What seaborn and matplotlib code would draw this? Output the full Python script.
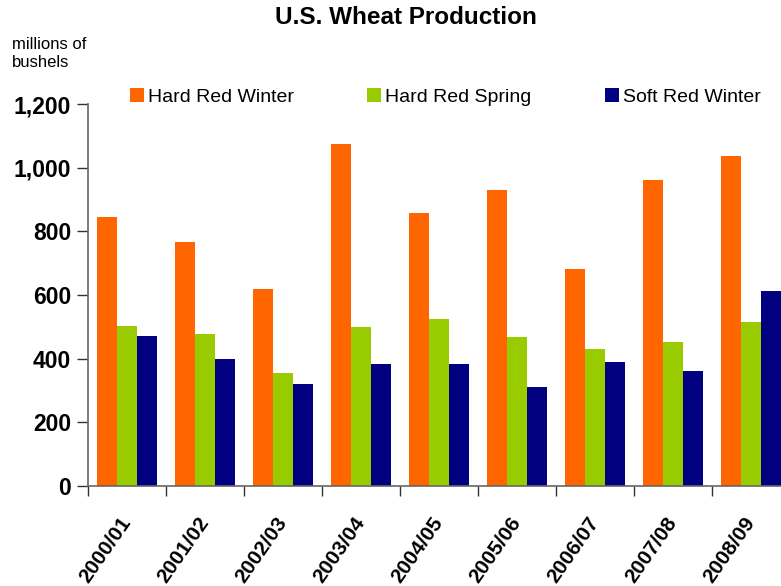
import numpy as np
import pandas as pd
import matplotlib
matplotlib.use("Agg")
import matplotlib.pyplot as plt
import matplotlib.transforms as mtransforms
import seaborn as sns

# Data (millions of bushels)
years = ["2000/01", "2001/02", "2002/03", "2003/04", "2004/05",
         "2005/06", "2006/07", "2007/08", "2008/09"]
hard_red_winter = [846, 768, 620, 1073, 859, 931, 683, 962, 1038]
hard_red_spring = [504, 476, 354, 501, 526, 467, 432, 451, 514]
soft_red_winter = [470, 398, 322, 382, 382, 310, 391, 360, 614]
classes = ["Hard Red Winter", "Hard Red Spring", "Soft Red Winter"]
colors = ["#FF6600", "#99CC00", "#000080"]
yticks = [0, 200, 400, 600, 800, 1000, 1200]

df = pd.DataFrame({
    "year": years * 3,
    "cls": [classes[0]] * 9 + [classes[1]] * 9 + [classes[2]] * 9,
    "value": hard_red_winter + hard_red_spring + soft_red_winter,
})

sns.set_style("white")
plt.rcParams["font.family"] = ["Liberation Sans", "DejaVu Sans"]
plt.rcParams["text.color"] = "black"
plt.rcParams["xtick.color"] = "black"
plt.rcParams["ytick.color"] = "black"

fig = plt.figure(figsize=(7.81, 5.86), dpi=100)
ax = fig.add_axes([0.1127, 0.1706, 0.8988, 0.6519])

sns.barplot(data=df, x="year", y="value", hue="cls", palette=colors,
            hue_order=classes, order=years, width=0.76, saturation=1,
            ax=ax, edgecolor="none", linewidth=0)

ax.set_xlim(-0.5, len(years) - 0.5)
ax.set_ylim(0, 1200)
ax.set_yticks(yticks)
ax.set_yticklabels([f"{v:,}" for v in yticks], fontsize=16.5, fontweight="bold")
ax.set_xlabel("")
ax.set_ylabel("")

# tick marks between categories, labels at centres
ax.set_xticks(np.arange(len(years)))
ax.set_xticklabels(years, rotation=55, ha="right", va="center",
                   rotation_mode="anchor", fontsize=15, fontweight="bold")
shift = mtransforms.ScaledTranslation(-5 / 100, 2 / 100, fig.dpi_scale_trans)
for lab in ax.get_xticklabels():
    lab.set_transform(lab.get_transform() + shift)
ax.set_xticks(np.arange(len(years)) - 0.5, minor=True)
ax.tick_params(axis="x", which="major", bottom=True, length=0, pad=24)
ax.tick_params(axis="x", which="minor", bottom=True, length=7, width=1,
               color="#333333", direction="out")
ax.tick_params(axis="y", left=True, length=8, width=1, color="#333333",
               direction="out", pad=4)
for s in ["top", "right"]:
    ax.spines[s].set_visible(False)
for s in ["left", "bottom"]:
    ax.spines[s].set_color("#666666")
    ax.spines[s].set_linewidth(1.2)

handles, labels = ax.get_legend_handles_labels()
ax.legend_.remove()
fig.legend(handles, labels, loc="center left", bbox_to_anchor=(130 / 781, 1 - 97 / 586),
           ncol=3, frameon=False, fontsize=14, handlelength=0.7, handleheight=0.7,
           handletextpad=0.2, columnspacing=3.8, borderaxespad=0, borderpad=0)

fig.text(406 / 781, 1 - 18 / 586, "U.S. Wheat Production", ha="center", va="center",
         fontsize=17.5, fontweight="bold")
fig.text(12 / 781, 1 - 37 / 586, "millions of\nbushels", ha="left", va="top",
         fontsize=12, linespacing=1.25)

fig.savefig("out.png", dpi=100)
